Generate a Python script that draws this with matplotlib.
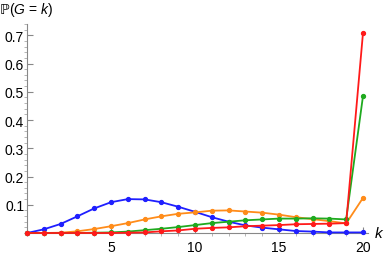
import matplotlib
matplotlib.use("Agg")
import matplotlib.pyplot as plt
from matplotlib.ticker import MultipleLocator

plt.rcParams['font.family'] = ['Liberation Sans', 'DejaVu Sans']
plt.rcParams['mathtext.fontset'] = 'custom'
plt.rcParams['mathtext.rm'] = 'Liberation Sans'
plt.rcParams['mathtext.it'] = 'Liberation Sans:italic'

k = list(range(21))
blue = [0.0, 0.013, 0.032, 0.059, 0.087, 0.109, 0.120, 0.119, 0.109, 0.093, 0.075,
        0.056, 0.040, 0.027, 0.019, 0.013, 0.007, 0.005, 0.002, 0.002, 0.002]
orange = [0.0, 0.0, 0.001, 0.006, 0.014, 0.024, 0.035, 0.048, 0.059, 0.068, 0.073,
          0.079, 0.080, 0.076, 0.072, 0.065, 0.056, 0.049, 0.042, 0.034, 0.124]
green = [0.0, 0.0, 0.0, 0.0, 0.001, 0.002, 0.005, 0.010, 0.015, 0.021, 0.028,
         0.035, 0.040, 0.045, 0.048, 0.051, 0.051, 0.052, 0.051, 0.048, 0.484]
red = [0.0, 0.0, 0.0, 0.0, 0.0, 0.0, 0.001, 0.002, 0.006, 0.009, 0.015,
       0.018, 0.020, 0.024, 0.026, 0.028, 0.031, 0.032, 0.033, 0.035, 0.707]

series = [(blue, "#1f1fff"), (orange, "#ff8c1a"), (green, "#1faa1f"), (red, "#ff1a1a")]

fig = plt.figure(figsize=(3.9, 2.55), dpi=100)
ax = fig.add_axes([27/390, 21/255, 341/390, 209/255])
for vals, c in series:
    ax.plot(k, vals, color=c, lw=1.3, marker="o", ms=2.8, clip_on=False, zorder=3)

ax.set_xlim(0, 20.3)
ax.set_ylim(0, 0.74)
for s in ["top", "right"]:
    ax.spines[s].set_visible(False)
for s in ["left", "bottom"]:
    ax.spines[s].set_color("#888888")
    ax.spines[s].set_linewidth(0.8)
ax.set_xticks([5, 10, 15, 20])
ax.set_yticks([0.1, 0.2, 0.3, 0.4, 0.5, 0.6, 0.7])
ax.set_yticklabels(["0.1", "0.2", "0.3", "0.4", "0.5", "0.6", "0.7"])
ax.xaxis.set_minor_locator(MultipleLocator(1))
ax.yaxis.set_minor_locator(MultipleLocator(0.02))
ax.tick_params(which="major", length=4, width=0.8, color="#888888", labelsize=10, pad=2)
ax.tick_params(which="minor", length=2, width=0.6, color="#aaaaaa")
ax.tick_params(axis="x", direction="in", pad=5)
ax.tick_params(axis="y", direction="in")
fig.text(374/390, 1 - 234/255, "$k$", fontsize=11, va="center", ha="left")
fig.text(0/390, 1 - 10/255, "ℙ", family="DejaVu Sans", fontsize=10, va="center", ha="left")
fig.text(9/390, 1 - 10/255, "($G$ = $k$)", fontsize=10, va="center", ha="left")

fig.savefig("out.png", dpi=100)
